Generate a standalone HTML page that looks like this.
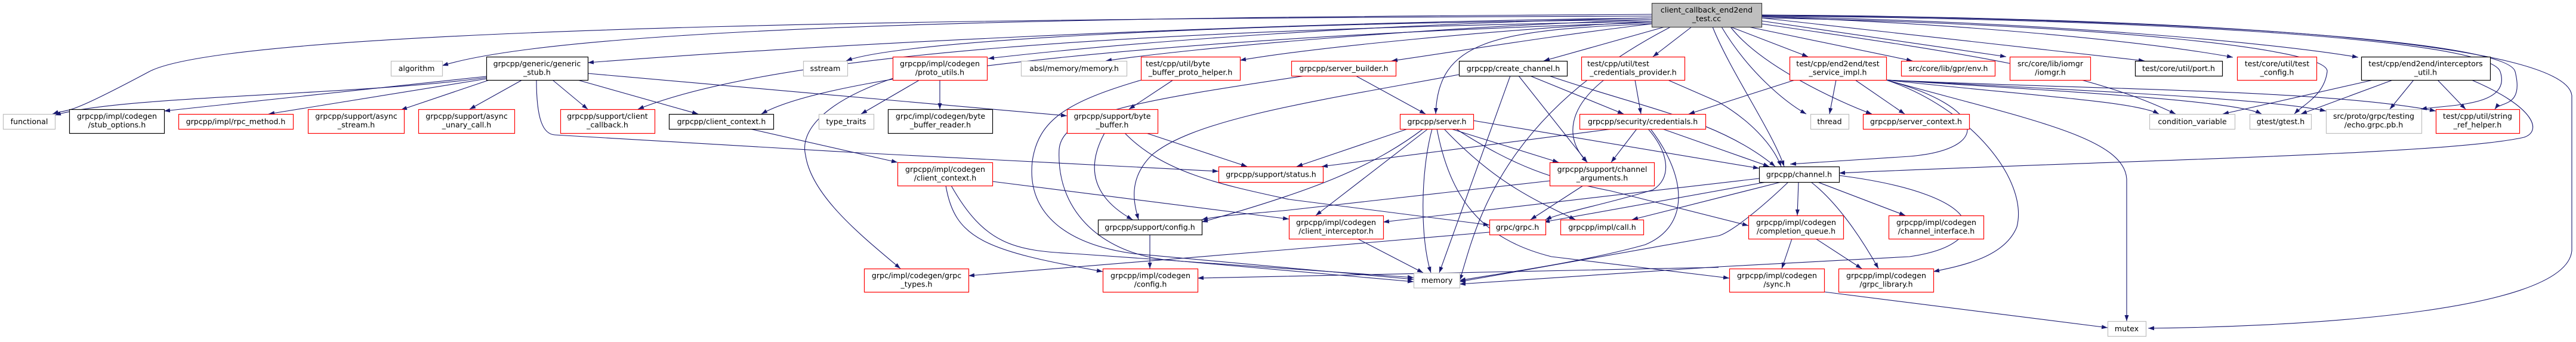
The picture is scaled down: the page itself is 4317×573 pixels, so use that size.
<!DOCTYPE html>
<html><head><meta charset="utf-8"><style>
html,body{margin:0;padding:0;background:#fff;}
svg{display:block;}
text{font-family:"DejaVu Sans","Liberation Sans",sans-serif;font-size:12.6px;fill:#000;}
.e{fill:none;stroke:#191970;stroke-width:1.1;marker-end:url(#a);}
.r{fill:#fff;stroke:#ff0000;stroke-width:1.2;}
.g{fill:#fff;stroke:#bfbfbf;stroke-width:1.2;}
.b{fill:#fff;stroke:#000;stroke-width:1.2;}
.m{fill:#bfbfbf;stroke:#404040;stroke-width:1.2;}
</style></head><body>
<svg width="4317" height="573" viewBox="0 0 4317 573" xmlns="http://www.w3.org/2000/svg">
<defs><marker id="a" markerUnits="userSpaceOnUse" markerWidth="11" markerHeight="8" refX="10" refY="3.5" orient="auto"><path d="M0,0 L10,3.5 L0,7 z" fill="#191970"/></marker></defs>
<g>
<!-- main edges -->
<path class="e" d="M2768,24 C2200,28 1000,30 741,110"/>
<path class="e" d="M2768,27 C1800,30 400,40 250,120 S120,180 88,191"/>
<path class="e" d="M2768,30 C2000,40 1300,80 985,105"/>
<path class="e" d="M2768,33 C2000,40 1500,70 1418,102"/>
<path class="e" d="M2768,36 C1900,50 1300,90 1069,183"/>
<path class="e" d="M2768,38 C2000,60 1400,120 1276,191"/>
<path class="e" d="M2768,30 C2300,40 1900,70 1656,98"/>
<path class="e" d="M2768,33 C2400,45 2000,80 1853,102"/>
<path class="e" d="M2768,36 C2500,50 2200,80 2078,101"/>
<path class="e" d="M2768,40 C2600,60 2450,85 2332,102"/>
<path class="e" d="M2768,40 C2500,50 2410,70 2406,191"/>
<path class="e" d="M2790,45 L2587,102"/>
<path class="e" d="M2835,45 L2770,95"/>
<path class="e" d="M2870,45 C2900,120 2970,220 2990,279"/>
<path class="e" d="M2885,45 C2930,120 2990,170 3027,191"/>
<path class="e" d="M2900,45 C2950,110 3080,170 3137,191"/>
<path class="e" d="M2900,45 L3030,95"/>
<path class="e" d="M2930,45 L3205,102"/>
<path class="e" d="M2952,35 L3362,95"/>
<path class="e" d="M2952,30 L3594,102"/>
<path class="e" d="M2952,28 C3300,40 3600,70 3742,96"/>
<path class="e" d="M2952,28 C3400,35 3800,70 3952,96"/>
<path class="e" d="M2952,30 C3500,40 3905,80 3900,120 S3860,175 3845,191"/>
<path class="e" d="M2952,27 C3500,30 4170,60 4190,120 S4100,175 4057,183"/>
<path class="e" d="M2952,26 C3500,28 4200,60 4215,120 S4190,170 4181,183"/>
<path class="e" d="M2952,25 C3700,30 4300,70 4310,160 L4310,420 C4300,530 3800,548 3600,550"/>
<path class="e" d="M2800,45 C2500,200 2470,400 2446,470"/>
<path class="e" d="M2952,40 C3300,90 3500,120 3646,191"/>
<!-- generic_stub -->
<path class="e" d="M815,130 C600,160 200,160 92,193"/>
<path class="e" d="M815,128 L275,186"/>
<path class="e" d="M815,132 L450,191"/>
<path class="e" d="M820,134 L672,184"/>
<path class="e" d="M875,134 L787,183"/>
<path class="e" d="M926,134 L985,183"/>
<path class="e" d="M968,134 L1170,191"/>
<path class="e" d="M985,123 L1788,194"/>
<path class="e" d="M899,134 C899,200 910,225 930,226 L1440,256 L2042,287"/>
<!-- proto_utils etc -->
<path class="e" d="M1541,134 L1443,191"/>
<path class="e" d="M1575,134 L1575,183"/>
<path class="e" d="M1500,130 C1380,170 1340,220 1350,260 C1360,330 1450,400 1509,450"/>
<path class="e" d="M1257,216 L1504,272"/>
<path class="e" d="M1966,134 L1892,183"/>
<path class="e" d="M1913,134 C1790,170 1740,200 1730,270 C1720,360 1790,410 1900,425 L2369,468"/>
<path class="e" d="M2272,127 L2389,191"/>
<path class="e" d="M2187,127 C1900,170 1780,190 1775,250 C1770,350 1840,420 1950,435 L2369,472"/>
<path class="e" d="M1851,223 C1820,280 1830,330 1898,368"/>
<path class="e" d="M1921,223 L2090,279"/>
<path class="e" d="M1885,223 C1950,290 2050,310 2160,334 L2496,377"/>
<path class="e" d="M1585,311 C1600,400 1650,420 1848,455"/>
<path class="e" d="M1594,311 C1650,410 1700,420 1800,425 L2369,465"/>
<path class="e" d="M1663,304 L2160,367"/>
<path class="e" d="M1927,393 L1927,450"/>
<path class="e" d="M2275,400 L2385,457"/>
<path class="e" d="M2496,389 L2160,418 L1623,462"/>
<path class="e" d="M2880,448 C2500,455 2100,462 2007,466"/>
<!-- server.h -->
<path class="e" d="M2359,216 L2173,279"/>
<path class="e" d="M2393,216 L2205,361"/>
<path class="e" d="M2385,216 C2300,280 2200,320 2014,372"/>
<path class="e" d="M2400,216 C2380,290 2380,400 2398,457"/>
<path class="e" d="M2432,216 L2612,272"/>
<path class="e" d="M2420,216 C2500,300 2560,330 2640,368"/>
<path class="e" d="M2440,216 C2540,280 2600,300 2700,320 L2930,378"/>
<path class="e" d="M2469,202 L2948,282"/>
<path class="e" d="M2408,216 C2430,330 2480,400 2600,430 L2898,466"/>
<!-- create_channel -->
<path class="e" d="M2531,127 L2412,457"/>
<path class="e" d="M2545,127 L2660,272"/>
<path class="e" d="M2564,127 L2721,191"/>
<path class="e" d="M2596,127 C2750,180 2880,200 2975,279"/>
<path class="e" d="M2445,125 C2200,170 2000,200 1930,260 C1890,300 1900,340 1908,368"/>
<!-- tcp -->
<path class="e" d="M2740,134 L2750,191"/>
<path class="e" d="M2688,134 C2630,180 2620,230 2660,272"/>
<path class="e" d="M2795,134 L2880,171 C2930,200 2970,240 2985,279"/>
<!-- credentials -->
<path class="e" d="M2702,216 L2215,279"/>
<path class="e" d="M2743,216 L2700,272"/>
<path class="e" d="M2762,216 C2800,260 2800,300 2770,318 C2700,340 2620,355 2590,368"/>
<path class="e" d="M2766,216 C2830,300 2830,380 2757,410 C2650,440 2500,460 2446,470"/>
<path class="e" d="M2786,216 L2965,279"/>
<!-- chargs -->
<path class="e" d="M2653,311 L2565,368"/>
<path class="e" d="M2597,303 L2160,352 C2100,358 2050,360 2014,368"/>
<!-- channel -->
<path class="e" d="M3014,305 L3012,361"/>
<path class="e" d="M3046,305 L3193,361"/>
<path class="e" d="M3035,305 C3080,340 3120,400 3148,450"/>
<path class="e" d="M2948,299 L2318,372"/>
<path class="e" d="M2960,305 L2587,372"/>
<path class="e" d="M2985,305 L2735,368"/>
<path class="e" d="M2997,305 C2950,350 2900,390 2880,395 L2446,472"/>
<path class="e" d="M3082,294 C3340,327 3340,410 3200,430 L2880,447 L2446,476"/>
<path class="e" d="M3003,400 L2986,450"/>
<path class="e" d="M3043,400 L3120,450"/>
<path class="e" d="M3057,489 L3532,549"/>
<!-- test_service_impl -->
<path class="e" d="M3077,134 L3066,191"/>
<path class="e" d="M3109,134 L3192,191"/>
<path class="e" d="M3161,134 C3330,180 3340,250 3200,262 L3000,275"/>
<path class="e" d="M3161,134 C3400,200 3560,230 3564,300 L3564,538"/>
<path class="e" d="M3161,134 C3300,180 3400,300 3380,380 C3360,430 3290,445 3240,455"/>
<path class="e" d="M3008,134 L2830,191"/>
<path class="e" d="M3161,134 C3400,160 3580,170 3618,191"/>
<path class="e" d="M3161,134 C3500,155 3750,170 3790,191"/>
<path class="e" d="M3161,134 C3500,152 3800,165 3898,186"/>
<path class="e" d="M3161,134 C3500,150 3900,150 4082,186"/>
<!-- interceptors_util -->
<path class="e" d="M3977,134 L3725,191"/>
<path class="e" d="M4010,134 L3856,191"/>
<path class="e" d="M4045,134 L4005,183"/>
<path class="e" d="M4085,134 L4132,183"/>
<path class="e" d="M4142,134 C4250,180 4260,220 4230,230 C4100,260 3500,270 3082,290"/>
</g>
<g>
<rect class="g" x="655.5" y="102.5" width="86" height="25"/><text x="698" y="119" text-anchor="middle">algorithm</text>
<rect class="g" x="5.5" y="191.5" width="87" height="25"/><text x="49" y="208" text-anchor="middle">functional</text>
<rect class="b" x="116.5" y="183.5" width="159" height="40"/><text x="196" y="199" text-anchor="middle">grpcpp/impl/codegen</text><text x="196" y="213.5" text-anchor="middle">/stub_options.h</text>
<rect class="r" x="299.5" y="191.5" width="192" height="25"/><text x="395" y="208" text-anchor="middle">grpcpp/impl/rpc_method.h</text>
<rect class="r" x="516.5" y="183.5" width="161" height="40"/><text x="597" y="199" text-anchor="middle">grpcpp/support/async</text><text x="597" y="213.5" text-anchor="middle">_stream.h</text>
<rect class="r" x="701.5" y="183.5" width="161" height="40"/><text x="782" y="199" text-anchor="middle">grpcpp/support/async</text><text x="782" y="213.5" text-anchor="middle">_unary_call.h</text>
<rect class="b" x="815.5" y="95.5" width="170" height="39"/><text x="900" y="111" text-anchor="middle">grpcpp/generic/generic</text><text x="900" y="125.5" text-anchor="middle">_stub.h</text>
<rect class="r" x="939.5" y="183.5" width="158" height="40"/><text x="1018" y="199" text-anchor="middle">grpcpp/support/client</text><text x="1018" y="213.5" text-anchor="middle">_callback.h</text>
<rect class="b" x="1121.5" y="191.5" width="175" height="25"/><text x="1209" y="208" text-anchor="middle">grpcpp/client_context.h</text>
<rect class="g" x="1346.5" y="102.5" width="74" height="25"/><text x="1383" y="119" text-anchor="middle">sstream</text>
<rect class="g" x="1372.5" y="191.5" width="92" height="25"/><text x="1418" y="208" text-anchor="middle">type_traits</text>
<rect class="r" x="1496.5" y="95.5" width="158" height="39"/><text x="1575" y="111" text-anchor="middle">grpcpp/impl/codegen</text><text x="1575" y="125.5" text-anchor="middle">/proto_utils.h</text>
<rect class="g" x="1711.5" y="102.5" width="177" height="25"/><text x="1800" y="119" text-anchor="middle">absl/memory/memory.h</text>
<rect class="r" x="1912.5" y="95.5" width="166" height="39"/><text x="1920" y="111">test/cpp/util/byte</text><text x="1995" y="125.5" text-anchor="middle">_buffer_proto_helper.h</text>
<rect class="b" x="1488.5" y="183.5" width="175" height="40"/><text x="1576" y="199" text-anchor="middle">grpc/impl/codegen/byte</text><text x="1576" y="213.5" text-anchor="middle">_buffer_reader.h</text>
<rect class="r" x="1788.5" y="183.5" width="152" height="40"/><text x="1864" y="199" text-anchor="middle">grpcpp/support/byte</text><text x="1864" y="213.5" text-anchor="middle">_buffer.h</text>
<rect class="r" x="1504.5" y="272.5" width="159" height="39"/><text x="1584" y="288" text-anchor="middle">grpcpp/impl/codegen</text><text x="1584" y="302.5" text-anchor="middle">/client_context.h</text>
<rect class="r" x="2042.5" y="279.5" width="175" height="26"/><text x="2130" y="296.5" text-anchor="middle">grpcpp/support/status.h</text>
<rect class="b" x="1840.5" y="368.5" width="174" height="25"/><text x="1927" y="385" text-anchor="middle">grpcpp/support/config.h</text>
<rect class="r" x="1448.5" y="450.5" width="175" height="39"/><text x="1536" y="466" text-anchor="middle">grpc/impl/codegen/grpc</text><text x="1536" y="480.5" text-anchor="middle">_types.h</text>
<rect class="r" x="1848.5" y="450.5" width="159" height="39"/><text x="1928" y="466" text-anchor="middle">grpcpp/impl/codegen</text><text x="1928" y="480.5" text-anchor="middle">/config.h</text>
<rect class="m" x="2768.5" y="5.5" width="184" height="40"/><text x="2860" y="21" text-anchor="middle">client_callback_end2end</text><text x="2860" y="35.5" text-anchor="middle">_test.cc</text>
<rect class="r" x="2164.5" y="102.5" width="175" height="25"/><text x="2252" y="119" text-anchor="middle">grpcpp/server_builder.h</text>
<rect class="b" x="2445.5" y="102.5" width="181" height="25"/><text x="2536" y="119" text-anchor="middle">grpcpp/create_channel.h</text>
<rect class="r" x="2650.5" y="95.5" width="173" height="39"/><text x="2660" y="111">test/cpp/util/test</text><text x="2737" y="125.5" text-anchor="middle">_credentials_provider.h</text>
<rect class="r" x="2346.5" y="191.5" width="123" height="25"/><text x="2408" y="208" text-anchor="middle">grpcpp/server.h</text>
<rect class="r" x="2647.5" y="191.5" width="211" height="25"/><text x="2753" y="208" text-anchor="middle">grpcpp/security/credentials.h</text>
<rect class="r" x="2597.5" y="272.5" width="175" height="39"/><text x="2685" y="288" text-anchor="middle">grpcpp/support/channel</text><text x="2685" y="302.5" text-anchor="middle">_arguments.h</text>
<rect class="r" x="2160.5" y="361.5" width="158" height="39"/><text x="2239" y="377" text-anchor="middle">grpcpp/impl/codegen</text><text x="2239" y="391.5" text-anchor="middle">/client_interceptor.h</text>
<rect class="r" x="2496.5" y="368.5" width="94" height="25"/><text x="2543" y="385" text-anchor="middle">grpc/grpc.h</text>
<rect class="r" x="2615.5" y="368.5" width="139" height="25"/><text x="2685" y="385" text-anchor="middle">grpcpp/impl/call.h</text>
<rect class="g" x="2369.5" y="457.5" width="77" height="25"/><text x="2408" y="474" text-anchor="middle">memory</text>
<rect class="r" x="2999.5" y="95.5" width="162" height="39"/><text x="3080" y="111" text-anchor="middle">test/cpp/end2end/test</text><text x="3080" y="125.5" text-anchor="middle">_service_impl.h</text>
<rect class="r" x="3186.5" y="102.5" width="157" height="25"/><text x="3265" y="119" text-anchor="middle">src/core/lib/gpr/env.h</text>
<rect class="r" x="3368.5" y="95.5" width="135" height="39"/><text x="3436" y="111" text-anchor="middle">src/core/lib/iomgr</text><text x="3436" y="125.5" text-anchor="middle">/iomgr.h</text>
<rect class="b" x="3578.5" y="102.5" width="146" height="25"/><text x="3651" y="119" text-anchor="middle">test/core/util/port.h</text>
<rect class="g" x="3034.5" y="191.5" width="64" height="25"/><text x="3066" y="208" text-anchor="middle">thread</text>
<rect class="r" x="3122.5" y="191.5" width="178" height="25"/><text x="3211" y="208" text-anchor="middle">grpcpp/server_context.h</text>
<rect class="b" x="2948.5" y="279.5" width="134" height="26"/><text x="3015" y="296.5" text-anchor="middle">grpcpp/channel.h</text>
<rect class="r" x="2930.5" y="361.5" width="159" height="39"/><text x="3010" y="377" text-anchor="middle">grpcpp/impl/codegen</text><text x="3010" y="391.5" text-anchor="middle">/completion_queue.h</text>
<rect class="r" x="3165.5" y="361.5" width="159" height="39"/><text x="3245" y="377" text-anchor="middle">grpcpp/impl/codegen</text><text x="3245" y="391.5" text-anchor="middle">/channel_interface.h</text>
<rect class="r" x="2898.5" y="450.5" width="159" height="39"/><text x="2978" y="466" text-anchor="middle">grpcpp/impl/codegen</text><text x="2978" y="480.5" text-anchor="middle">/sync.h</text>
<rect class="r" x="3081.5" y="450.5" width="159" height="39"/><text x="3161" y="466" text-anchor="middle">grpcpp/impl/codegen</text><text x="3161" y="480.5" text-anchor="middle">/grpc_library.h</text>
<rect class="g" x="3532.5" y="538.5" width="64" height="25"/><text x="3564" y="555" text-anchor="middle">mutex</text>
<rect class="r" x="3749.5" y="95.5" width="133" height="39"/><text x="3816" y="111" text-anchor="middle">test/core/util/test</text><text x="3816" y="125.5" text-anchor="middle">_config.h</text>
<rect class="b" x="3957.5" y="95.5" width="216" height="39"/><text x="4065" y="111" text-anchor="middle">test/cpp/end2end/interceptors</text><text x="4065" y="125.5" text-anchor="middle">_util.h</text>
<rect class="g" x="3602.5" y="191.5" width="143" height="25"/><text x="3674" y="208" text-anchor="middle">condition_variable</text>
<rect class="g" x="3770.5" y="191.5" width="103" height="25"/><text x="3822" y="208" text-anchor="middle">gtest/gtest.h</text>
<rect class="g" x="3898.5" y="183.5" width="160" height="40"/><text x="3978" y="199" text-anchor="middle">src/proto/grpc/testing</text><text x="3978" y="213.5" text-anchor="middle">/echo.grpc.pb.h</text>
<rect class="r" x="4082.5" y="183.5" width="140" height="40"/><text x="4152" y="199" text-anchor="middle">test/cpp/util/string</text><text x="4152" y="213.5" text-anchor="middle">_ref_helper.h</text>
</g>
</svg>
</body></html>
